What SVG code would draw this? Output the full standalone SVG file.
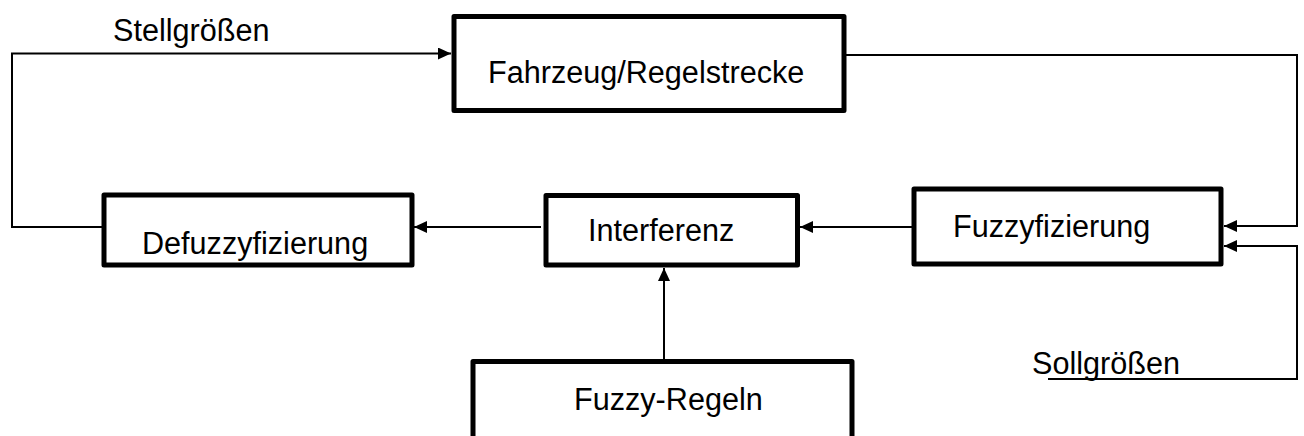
<svg xmlns="http://www.w3.org/2000/svg" width="1304" height="436" viewBox="0 0 1304 436">
<style>
.box{fill:#fff;stroke:#000;stroke-width:5;stroke-linejoin:round}
.lbl{font-family:"Liberation Sans",Arial,sans-serif;font-size:30.6px;fill:#000}
.con{fill:none;stroke:#000;stroke-width:2}
</style>
<defs>
<marker id="arr" markerUnits="userSpaceOnUse" markerWidth="14" markerHeight="13" refX="13" refY="6" orient="auto" viewBox="0 0 14 13">
<path d="M0,0 L13,6 L0,12 z" fill="#000"/>
</marker>
</defs>
<rect width="1304" height="436" fill="#fff"/>
<g id="connectors">
<path class="con" d="M107 227 H12 V53.5 H451" marker-end="url(#arr)"/>
<path class="con" d="M843 55 H1297 V226 H1224" marker-end="url(#arr)"/>
<path class="con" d="M1048 379 H1297 V246 H1224" marker-end="url(#arr)"/>
<path class="con" d="M912 227 H800" marker-end="url(#arr)"/>
<path class="con" d="M541 227 H414" marker-end="url(#arr)"/>
<path class="con" d="M664 361 V268" marker-end="url(#arr)"/>
</g>
<g id="fahrzeug">
<rect class="box" x="454" y="16.5" width="390" height="94"/>
<text class="lbl" x="488" y="83">Fahrzeug/Regelstrecke</text>
</g>
<g id="defuzzy">
<rect class="box" x="104" y="195" width="308" height="70"/>
<text class="lbl" x="142" y="254">Defuzzyfizierung</text>
</g>
<g id="interferenz">
<rect class="box" x="546" y="195.5" width="251.5" height="69.5"/>
<text class="lbl" x="588" y="241">Interferenz</text>
</g>
<g id="fuzzyfizierung">
<rect class="box" x="914" y="189" width="307" height="75"/>
<text class="lbl" x="953" y="237">Fuzzyfizierung</text>
</g>
<g id="regeln">
<rect class="box" x="473" y="361.5" width="379" height="100"/>
<text class="lbl" x="574" y="410">Fuzzy-Regeln</text>
</g>
<g id="stell">
<text class="lbl" x="113" y="41">Stellgrößen</text>
</g>
<g id="soll">
<text class="lbl" x="1032" y="374">Sollgrößen</text>
</g>
</svg>
